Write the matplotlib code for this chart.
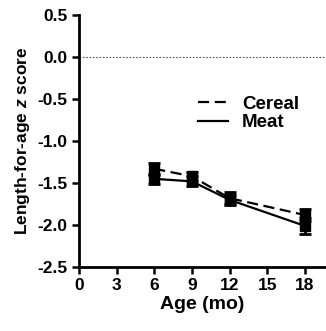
import numpy as np
import matplotlib
matplotlib.use('Agg')
import matplotlib.pyplot as plt
from matplotlib.lines import Line2D

plt.rcParams['font.family'] = ['Liberation Sans', 'DejaVu Sans']
plt.rcParams['font.weight'] = 'bold'
plt.rcParams['mathtext.fontset'] = 'custom'
plt.rcParams['mathtext.it'] = 'Liberation Sans:italic'

# data
age = [6, 9, 12, 18]
cereal = [-1.33, -1.42, -1.68, -1.88]
cereal_err = [0.07, 0.05, 0.07, 0.07]
meat = [-1.45, -1.48, -1.70, -2.01]
meat_err = [0.06, 0.06, 0.06, 0.10]
xticks = [0, 3, 6, 9, 12, 15, 18]
yticks = [0.5, 0.0, -0.5, -1.0, -1.5, -2.0, -2.5]

fig = plt.figure(figsize=(3.26, 3.31), dpi=100)
ax = fig.add_axes([0.242, 0.193, 0.755, 0.762])

ax.axhline(0, color='#555555', lw=0.8, ls=(0, (1.5, 1.5)), zorder=1)

dash = (0, (5, 2.5))
ax.errorbar(age, cereal, yerr=cereal_err, color='black', lw=1.6, ls=dash,
            marker='s', ms=6.5, capsize=4.5, capthick=2, elinewidth=2)
ax.errorbar(age, meat, yerr=meat_err, color='black', lw=1.6, ls='-',
            marker='s', ms=6.5, capsize=4.5, capthick=2, elinewidth=2)

ax.set_xlim(0, 19.6)
ax.set_ylim(-2.5, 0.5)
ax.set_xticks(xticks)
ax.set_yticks(yticks)
ax.set_yticklabels(['%.1f' % v for v in yticks])
ax.tick_params(direction='out', length=5, width=1.8, labelsize=12.5, pad=3)
for s in ['top', 'right']:
    ax.spines[s].set_visible(False)
for s in ['left', 'bottom']:
    ax.spines[s].set_linewidth(2)

ax.set_xlabel('Age (mo)', fontsize=14, fontweight='bold', labelpad=2)
ax.set_ylabel('Length-for-age $z$ score', fontsize=12.5, fontweight='bold', labelpad=4)

h = [Line2D([], [], color='black', lw=1.6, ls=dash),
     Line2D([], [], color='black', lw=1.6, ls='-')]
ax.legend(h, ['Cereal', 'Meat'], loc='upper left', bbox_to_anchor=(0.483, 0.68),
          frameon=False, fontsize=13.5, handlelength=1.6, handletextpad=0.75,
          labelspacing=0.08, borderaxespad=0, borderpad=0)

fig.savefig('out.png', dpi=100)
